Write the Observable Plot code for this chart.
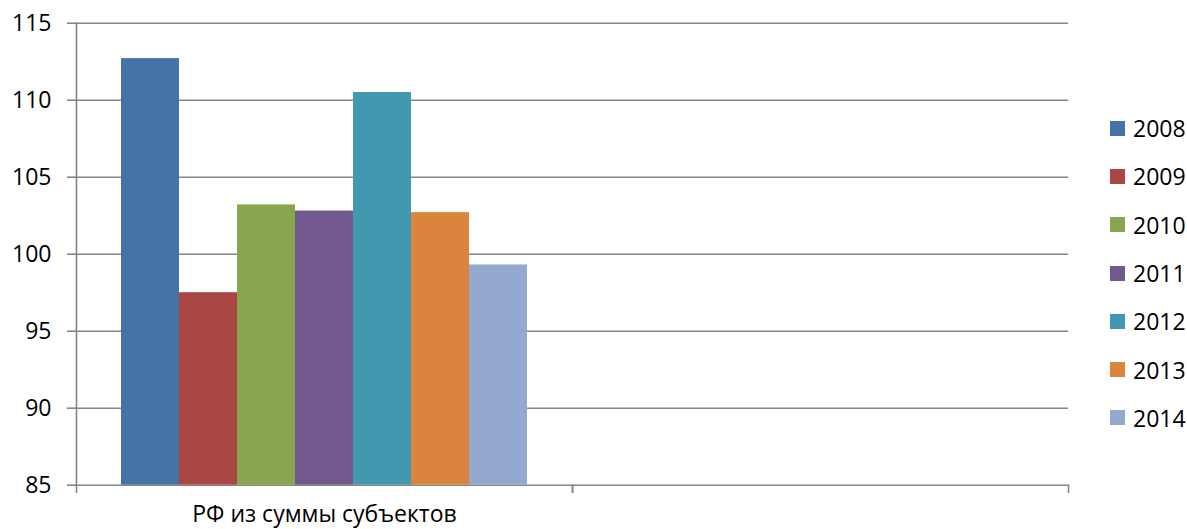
<!DOCTYPE html>
<html>
<head>
<meta charset="utf-8">
<script src="https://cdn.jsdelivr.net/npm/d3@7"></script>
<script src="https://cdn.jsdelivr.net/npm/@observablehq/plot@0.6"></script>
<style>
  body { margin: 0; background: #fff; }
  #wrap { position: relative; width: 1187px; height: 529px; }
  #legend { position: absolute; left: 1110px; top: 104px; font-family: "Open Sans", sans-serif; font-size: 23px; color: #000; }
  .row { height: 48.3px; display: flex; align-items: center; }
  .sw { width: 15px; height: 15px; margin-right: 8px; }
</style>
</head>
<body>
<div id="wrap"><div id="legend"></div></div>
<script>
const categories = ["РФ из суммы субъектов", ""];
const years = ["2008", "2009", "2010", "2011", "2012", "2013", "2014"];
const values = [112.7, 97.5, 103.2, 102.8, 110.5, 102.7, 99.3];
const colors = ["#4572A7", "#AA4643", "#89A54E", "#71588F", "#4198AF", "#DB843D", "#93A9CF"];
const yTicks = [85, 90, 95, 100, 105, 110, 115];

const data = years.map((y, i) => ({category: categories[0], year: y, value: values[i]}));
const gridData = categories.flatMap(c => yTicks.map(t => ({category: c, tick: t})));

const W = 1187, H = 529, mt = 22.7, mb = 44.3, ml = 75, mr = 119;
const grid = "#868686";

const chart = Plot.plot({
  width: W, height: H,
  marginTop: mt, marginBottom: mb, marginLeft: ml, marginRight: mr,
  style: {fontFamily: "'Open Sans', sans-serif", fontSize: "23px", color: "#000", background: "#fff"},
  fx: {domain: categories, padding: 0, axis: "bottom", label: null, tickSize: 0, tickPadding: 20,
       tickFormat: d => d},
  x: {domain: years, paddingInner: 0, paddingOuter: 0.75, axis: null},
  y: {domain: [yTicks[0], yTicks[yTicks.length - 1]], axis: null},
  color: {domain: years, range: colors},
  marks: [
    Plot.ruleY(gridData, {fx: "category", y: "tick", stroke: grid, strokeWidth: 1.6}),
    Plot.barY(data, {fx: "category", x: "year", y1: yTicks[0], y2: "value", fill: "year"}),
    Plot.axisY({ticks: yTicks, tickSize: 9, tickPadding: 16, stroke: grid, strokeWidth: 1.6, label: null, fill: "#000", strokeOpacity: 1}),
    Plot.frame({anchor: "left", facetAnchor: "left", stroke: grid, strokeWidth: 1.6}),
    Plot.frame({anchor: "left", stroke: grid, strokeWidth: 1.6, insetTop: H - mt - mb, insetBottom: -7}),
    Plot.frame({anchor: "right", stroke: grid, strokeWidth: 1.6, insetTop: H - mt - mb, insetBottom: -7})
  ]
});
document.getElementById("wrap").prepend(chart);

const legend = document.getElementById("legend");
years.forEach((y, i) => {
  const row = document.createElement("div");
  row.className = "row";
  const sw = document.createElement("div");
  sw.className = "sw";
  sw.style.background = colors[i];
  const t = document.createElement("span");
  t.textContent = y;
  row.append(sw, t);
  legend.append(row);
});
</script>
</body>
</html>
